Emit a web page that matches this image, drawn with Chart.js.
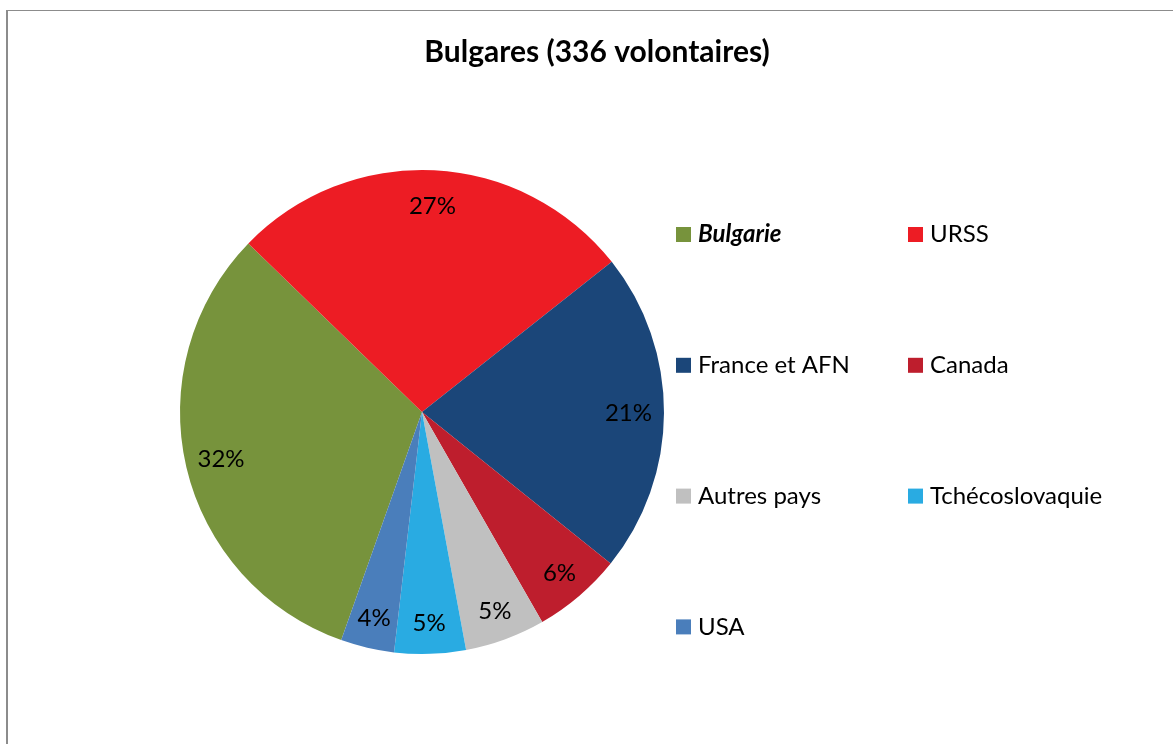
<!DOCTYPE html>
<html>
<head>
<meta charset="utf-8">
<script src="https://cdn.jsdelivr.net/npm/chart.js@4"></script>
<style>
  html, body { margin: 0; padding: 0; background: #fff; }
  #cadre {
    position: absolute; left: 6px; top: 10px; width: 1200px; height: 800px;
    border-left: 2px solid #8c8c8c; border-top: 1px solid #8c8c8c;
  }
  #zone { position: absolute; left: 0; top: 0; width: 1173px; height: 744px; }
</style>
</head>
<body>
<div id="cadre"></div>
<div id="zone"><canvas id="graphe" width="1173" height="744"></canvas></div>
<script>
// données
const pays = ['Bulgarie', 'URSS', 'France et AFN', 'Canada', 'Autres pays', 'Tchécoslovaquie', 'USA'];
const volontaires = [107, 91, 72, 20, 18, 16, 12];
const couleurs = ['#77933C', '#ED1C24', '#1B4679', '#BE1E2D', '#C0C0C0', '#29ABE2', '#4A7EBB'];
const titre = 'Bulgares (336 volontaires)';

const police = 'Lato, "Open Sans", sans-serif';

// titre, étiquettes de pourcentage et légende à deux colonnes
const decor = {
    id: 'decor',
    afterDraw(chart) {
        const ctx = chart.ctx;
        const total = volontaires.reduce((a, b) => a + b, 0);
        ctx.save();

        // titre
        ctx.fillStyle = '#000';
        ctx.font = 'bold 30px ' + police;
        ctx.textAlign = 'center';
        ctx.textBaseline = 'middle';
        ctx.fillText(titre, 597, 52);

        // pourcentages dans les parts
        ctx.font = '24px ' + police;
        const arcs = chart.getDatasetMeta(0).data;
        arcs.forEach((arc, i) => {
            const p = arc.getProps(['x', 'y', 'startAngle', 'endAngle', 'outerRadius'], true);
            const milieu = (p.startAngle + p.endAngle) / 2;
            const ouverture = p.endAngle - p.startAngle;
            const r = p.outerRadius * (ouverture < 0.5 ? 0.875 : 0.853);
            const x = p.x + Math.cos(milieu) * r;
            const y = p.y + Math.sin(milieu) * r;
            const pct = Math.round(volontaires[i] / total * 100) + '%';
            ctx.fillText(pct, x, y);
        });

        // légende
        ctx.textAlign = 'left';
        pays.forEach((nom, i) => {
            const col = i % 2;
            const ligne = Math.floor(i / 2);
            const x = col === 0 ? 676 : 908;
            const y = 234.5 + ligne * 130.8;
            ctx.fillStyle = couleurs[i];
            ctx.fillRect(x, y - 7.5, 15, 15);
            ctx.fillStyle = '#000';
            ctx.font = (i === 0 ? 'italic bold ' : '') + '24px ' + police;
            ctx.fillText(nom, x + 22, y);
        });
        ctx.restore();
    }
};

new Chart(document.getElementById('graphe'), {
    type: 'pie',
    data: {
        labels: pays,
        datasets: [{
            data: volontaires,
            backgroundColor: couleurs,
            borderWidth: 0
        }]
    },
    options: {
        responsive: false,
        animation: false,
        rotation: 199.5,
        layout: { padding: { left: 180, right: 509, top: 170, bottom: 90 } },
        plugins: {
            legend: { display: false },
            title: { display: false },
            tooltip: { enabled: false }
        }
    },
    plugins: [decor]
});
</script>
</body>
</html>
